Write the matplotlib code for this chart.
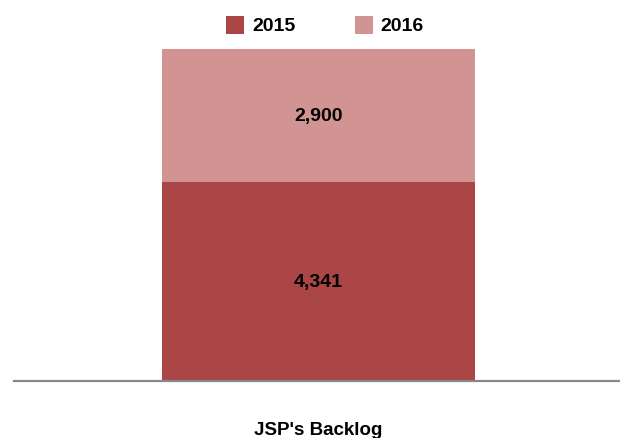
import matplotlib
matplotlib.use("Agg")
import matplotlib.pyplot as plt
from matplotlib.patches import Rectangle

plt.rcParams['font.family'] = ['Liberation Sans', 'DejaVu Sans']

categories = ["JSP's Backlog"]
series_names = ["2015", "2016"]
values_2015 = [4341]
values_2016 = [2900]
colors = ["#aa4645", "#d29493"]

W, H = 620, 439
fig = plt.figure(figsize=(W/100, H/100), dpi=100)
base_px = 382
top_px = 40
ax = fig.add_axes([14/W, 1 - base_px/H, 606/W, (base_px - top_px)/H])

scale = (base_px - 50) / (values_2015[0] + values_2016[0])
x = [0]
bw = 313/606
b1 = ax.bar(x, values_2015, width=bw, color=colors[0], label=series_names[0])
b2 = ax.bar(x, values_2016, width=bw, bottom=values_2015, color=colors[1], label=series_names[1])
ax.bar_label(b1, labels=[f"{v:,.0f}" for v in values_2015], label_type='center',
             fontsize=14, fontweight='bold', color='black')
ax.bar_label(b2, labels=[f"{v:,.0f}" for v in values_2016], label_type='center',
             fontsize=14, fontweight='bold', color='black')

ax.set_xlim(-304.5/606, 301.5/606)
ax.set_ylim(0, (base_px - top_px) / scale)
ax.set_xticks(x)
ax.set_xticklabels(categories, fontsize=13.5, fontweight='bold')
ax.tick_params(axis='x', length=0, pad=29)
ax.set_yticks([])
for s in ['top', 'right', 'left']:
    ax.spines[s].set_visible(False)
ax.spines['bottom'].set_color('#888888')
ax.spines['bottom'].set_linewidth(1.6)

# legend drawn manually in figure pixel positions
leg_sq_x = [226, 355]
leg_txt_x = [252, 380]
for name, c, sx, tx in zip(series_names, colors, leg_sq_x, leg_txt_x):
    fig.patches.append(Rectangle((sx/W, 1 - 35/H), 18/W, 18/H, transform=fig.transFigure,
                                 facecolor=c, edgecolor='none'))
    fig.text(tx/W, 1 - 26.5/H, name, fontsize=14, fontweight='bold', va='center', ha='left')

fig.savefig("out.png", dpi=100)
